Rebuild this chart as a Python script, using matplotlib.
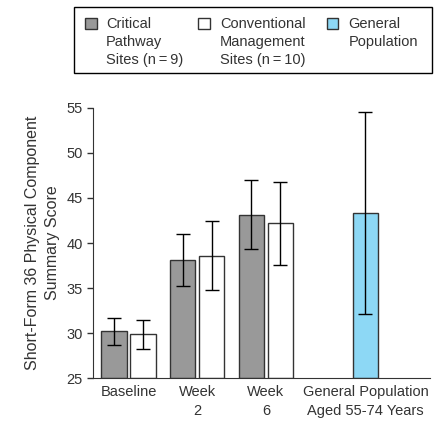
import matplotlib.pyplot as plt
from matplotlib.patches import Rectangle

plt.rcParams['font.family'] = ['Liberation Sans', 'DejaVu Sans']

# data
categories = ['Baseline', 'Week\n2', 'Week\n6', 'General Population\nAged 55-74 Years']
cp_mean = [30.2, 38.1, 43.1]
cp_low = [28.65, 35.2, 39.3]
cp_high = [31.7, 41.0, 47.0]
cm_mean = [29.9, 38.6, 42.25]
cm_low = [28.2, 34.8, 37.6]
cm_high = [31.45, 42.4, 46.8]
gp_mean = [43.3]
gp_low = [32.1]
gp_high = [54.55]

legend_labels = ['Critical\nPathway\nSites (n\u2009=\u20099)',
                 'Conventional\nManagement\nSites (n\u2009=\u200910)',
                 'General\nPopulation']

gray = '#999999'
blue = '#8dd8f5'
edge = '#333333'
txt = '#333333'

pos = [0, 1, 2, 3.45]
w = 0.371
off = 0.211

fig = plt.figure(figsize=(4.35, 4.26), dpi=100)
ax = fig.add_axes([0.2145, 0.112, 0.774, 0.635])

xc = [p - off for p in pos[:3]]
xm = [p + off for p in pos[:3]]
ebkw = dict(fmt='none', ecolor='black', elinewidth=1, capsize=5, capthick=1, zorder=3)

ax.bar(xc, [m - 25 for m in cp_mean], w, bottom=25, color=gray, edgecolor=edge, linewidth=1)
ax.errorbar(xc, cp_mean, yerr=[[m - l for m, l in zip(cp_mean, cp_low)],
                               [h - m for m, h in zip(cp_mean, cp_high)]], **ebkw)
ax.bar(xm, [m - 25 for m in cm_mean], w, bottom=25, color='white', edgecolor=edge, linewidth=1)
ax.errorbar(xm, cm_mean, yerr=[[m - l for m, l in zip(cm_mean, cm_low)],
                               [h - m for m, h in zip(cm_mean, cm_high)]], **ebkw)
ax.bar(pos[3:], [m - 25 for m in gp_mean], w, bottom=25, color=blue, edgecolor=edge, linewidth=1)
ax.errorbar(pos[3:], gp_mean, yerr=[[m - l for m, l in zip(gp_mean, gp_low)],
                                    [h - m for m, h in zip(gp_mean, gp_high)]], **ebkw)

ax.set_ylim(25, 55)
ax.set_xlim(-0.512, 4.39)
ax.set_yticks([25, 30, 35, 40, 45, 50, 55])
ax.set_xticks(pos)
ax.set_xticklabels(categories, fontsize=10.5, color=txt, linespacing=1.45)
ax.tick_params(axis='x', length=0, pad=5)
ax.tick_params(axis='y', labelsize=10.5, labelcolor=txt, length=4, width=1, color=edge)
for s in ['top', 'right']:
    ax.spines[s].set_visible(False)
for s in ['left', 'bottom']:
    ax.spines[s].set_color(edge)
ax.set_ylabel('Short-Form 36 Physical Component\nSummary Score', fontsize=11.5,
              color=txt, labelpad=5, linespacing=1.4)

# legend box drawn by hand (text aligned to top of marker)
W, H = 435, 426
fig.patches.append(Rectangle((74 / W, 1 - 72.7 / H), (431.7 - 74) / W, (72.7 - 6.7) / H,
                             transform=fig.transFigure, fill=False, edgecolor='black', linewidth=1))
mk_x = [85, 198.3, 326.7]
tx_x = [106, 220, 348.3]
colors = [gray, 'white', blue]
for mx, tx, c, lab in zip(mk_x, tx_x, colors, legend_labels):
    fig.patches.append(Rectangle((mx / W, 1 - 29.3 / H), 11.5 / W, 11 / H, transform=fig.transFigure,
                                 facecolor=c, edgecolor=edge, linewidth=1))
    fig.text(tx / W, 1 - 16.5 / H, lab, fontsize=10.5, color=txt, va='top', ha='left',
             linespacing=1.4)

fig.savefig('out.png', dpi=100)
